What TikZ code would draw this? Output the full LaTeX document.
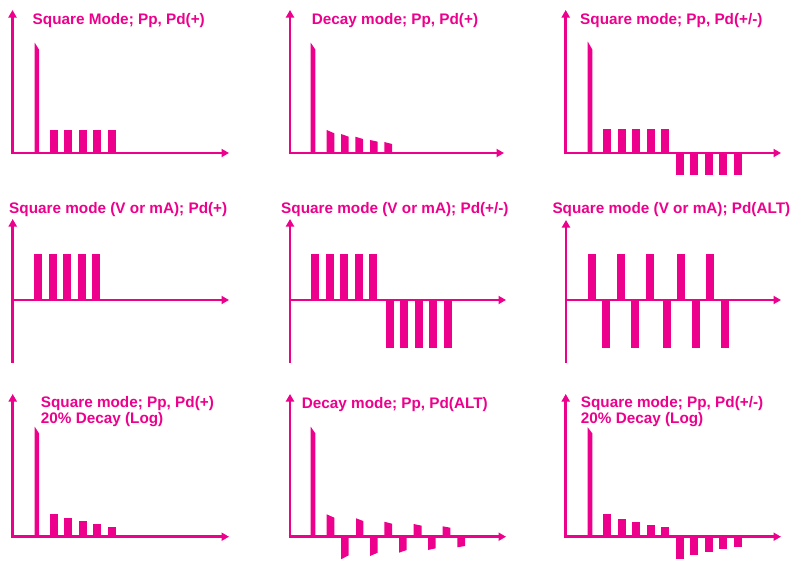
\documentclass[tikz,border=0pt]{standalone}
\usepackage{fontspec}
\setmainfont{Liberation Sans}
\usetikzlibrary{arrows.meta}
\definecolor{mag}{RGB}{236,0,140}
\newcommand\pls[5]{\fill[mag] (#1,#3) -- (#1,#4) -- (#2,#5) -- (#2,#3) -- cycle;}
\begin{document}
\begin{tikzpicture}[x=1pt,y=-1pt,
  axis/.style={draw=mag,line width=2.9pt,-{Triangle[length=7.5pt,width=8pt]}},
  ttl/.style={anchor=base west,inner sep=0pt,text=mag,font=\fontsize{15.3}{16}\selectfont\bfseries}]
\useasboundingbox (0,0) rectangle (810,560);
% ---------- Row 1 ----------
% Panel 1
\draw[axis] (12.5,154.4) -- (12.5,10);
\draw[axis] (11,153) -- (229,153);
\pls{34.7}{39}{153}{42.7}{49.5}
\foreach \a in {50,64,79,93,108} {\fill[mag] (\a,153) rectangle (\a+7.8,130);}
\node[ttl] (t1) at (32.5,24) {Square Mode; Pp, Pd(+)};
% Panel 2
\draw[axis] (290,154.4) -- (290,10);
\draw[axis] (288.5,153) -- (504,153);
\pls{310.7}{315.3}{153}{42.7}{49.5}
\pls{326.7}{334.3}{153}{130}{133.3}
\pls{341}{348.7}{153}{134}{136.7}
\pls{355.3}{363}{153}{136.7}{139}
\pls{370}{377.7}{153}{140}{141.7}
\pls{384.3}{392}{153}{142}{144}
\node[ttl] (t2) at (311.7,24) {Decay mode; Pp, Pd(+)};
% Panel 3
\draw[axis] (565.7,154.4) -- (565.7,10);
\draw[axis] (564.2,153) -- (781,153);
\pls{587.7}{592.3}{153}{41.5}{49.5}
\foreach \a in {603.3,618.3,632.3,647,661} {\fill[mag] (\a,153) rectangle (\a+7.8,129);}
\foreach \a in {676,690,705,719,734} {\fill[mag] (\a,153) rectangle (\a+7.8,174.5);}
\node[ttl] (t3) at (580,24) {Square mode; Pp, Pd(+/-)};
% ---------- Row 2 ----------
% Panel 4
\draw[axis] (12.7,363) -- (12.7,219);
\draw[axis] (11.2,300) -- (229,300);
\foreach \a in {34.3,49,63.3,78,92.3} {\fill[mag] (\a,300) rectangle (\a+7.6,253.7);}
\node[ttl] (t4) at (9,213.3) {Square mode (V or mA); Pd(+)};
% Panel 5
\draw[axis] (290,363) -- (290,219);
\draw[axis] (288.5,300) -- (506,300);
\foreach \a in {311,326,340,355,369.3} {\fill[mag] (\a,300) rectangle (\a+7.7,253.7);}
\foreach \a in {386,400,415,429,444} {\fill[mag] (\a,300) rectangle (\a+7.7,347.7);}
\node[ttl] (t5) at (281,213.3) {Square mode (V or mA); Pd(+/-)};
% Panel 6
\draw[axis] (566,363) -- (566,220);
\draw[axis] (564.5,300) -- (781,300);
\foreach \a in {588.3,617.3,646,677,706} {\fill[mag] (\a,300) rectangle (\a+7.8,253.7);}
\foreach \a in {602.3,631,663,692,721} {\fill[mag] (\a,300) rectangle (\a+7.8,347.7);}
\node[ttl] (t6) at (552.3,213.3) {Square mode (V or mA); Pd(ALT)};
% ---------- Row 3 ----------
% Panel 7
\draw[axis] (12.7,538.1) -- (12.7,394);
\draw[axis] (11.2,536.7) -- (229,536.7);
\pls{34.7}{39}{536.7}{426.7}{433.3}
\fill[mag] (50,536.7) rectangle (57.7,514);
\fill[mag] (63.7,536.7) rectangle (71.7,517.7);
\fill[mag] (79,536.7) rectangle (87,521);
\fill[mag] (93,536.7) rectangle (101,524);
\fill[mag] (108,536.7) rectangle (115.7,526.7);
\node[ttl] (t7a) at (40.7,407.7) {Square mode; Pp, Pd(+)};
\node[ttl] (t7b) at (40.7,423.3) {20\% Decay (Log)};
% Panel 8
\draw[axis] (290,538.1) -- (290,394);
\draw[axis] (288.5,536.7) -- (506,536.7);
\pls{310.7}{315.3}{536.7}{426.7}{433.3}
\pls{326.7}{334.3}{536.7}{514.3}{517.7}
\pls{356}{363.3}{536.7}{518.3}{521}
\pls{384.3}{392}{536.7}{521.7}{523.7}
\pls{413.7}{421.7}{536.7}{524}{525.7}
\pls{442.7}{450.3}{536.7}{526.3}{527.7}
\pls{341}{348.7}{536.7}{559.3}{555.3}
\pls{370}{377.7}{536.7}{556}{552.7}
\pls{399}{406.7}{536.7}{552.7}{550}
\pls{428}{435.7}{536.7}{550}{548.3}
\pls{457.3}{465}{536.7}{547.3}{546}
\node[ttl] (t8) at (301.7,408.3) {Decay mode; Pp, Pd(ALT)};
% Panel 9
\draw[axis] (565.7,538.1) -- (565.7,394);
\draw[axis] (564.2,536.7) -- (781,536.7);
\pls{587.7}{592.3}{536.7}{427.3}{433.3}
\fill[mag] (603.3,536.7) rectangle (611,514);
\fill[mag] (618.3,536.7) rectangle (626,519);
\fill[mag] (632.3,536.7) rectangle (640,522);
\fill[mag] (647,536.7) rectangle (655,525);
\fill[mag] (661,536.7) rectangle (669,527);
\fill[mag] (676,536.7) rectangle (684,559.3);
\fill[mag] (690,536.7) rectangle (698,555.3);
\fill[mag] (705,536.7) rectangle (713,552.3);
\fill[mag] (719,536.7) rectangle (727,549.3);
\fill[mag] (734,536.7) rectangle (742,547.3);
\node[ttl] (t9a) at (580.7,407.7) {Square mode; Pp, Pd(+/-)};
\node[ttl] (t9b) at (580.7,423.3) {20\% Decay (Log)};
\end{tikzpicture}
\end{document}
